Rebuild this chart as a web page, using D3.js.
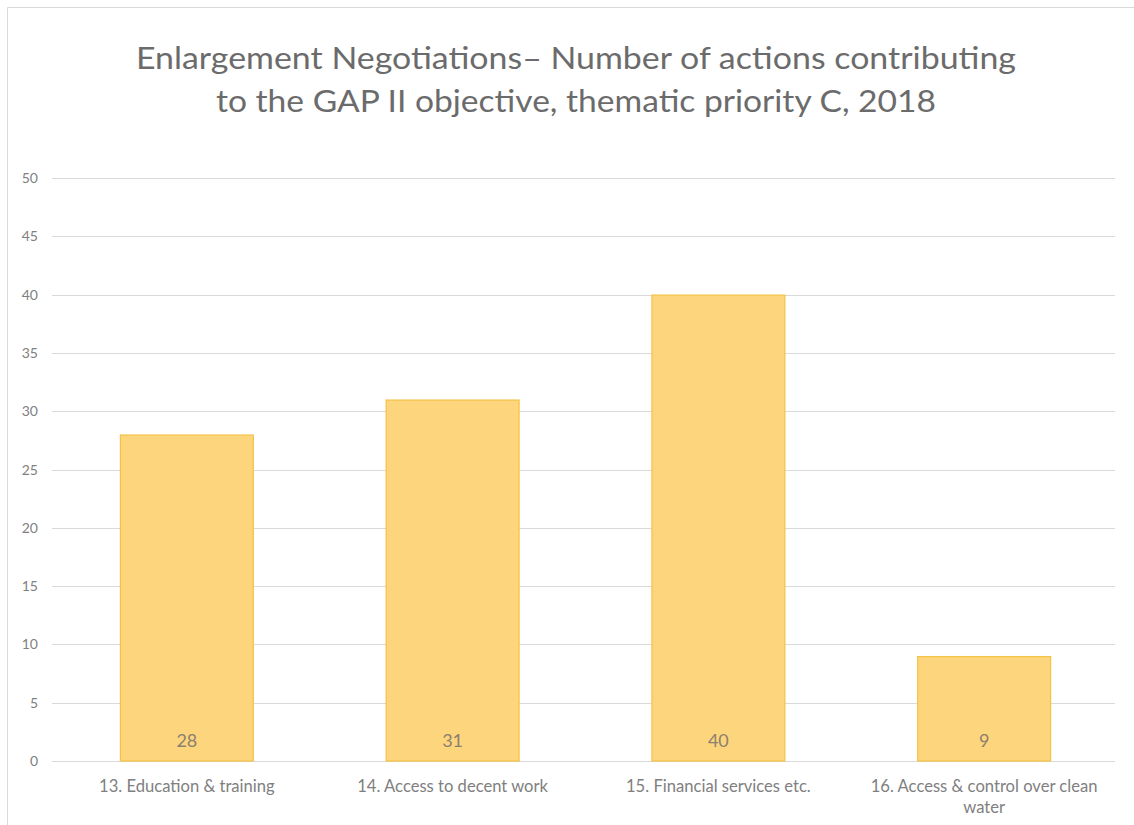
<!DOCTYPE html>
<html><head><meta charset="utf-8">
<script src="https://cdn.jsdelivr.net/npm/d3@7"></script>
<style>body{margin:0;background:#fff}svg{display:block}</style>
</head><body>
<script>
const categories = ["13. Education & training","14. Access to decent work","15. Financial services etc.","16. Access & control over clean water"];
const values = [28,31,40,9];
const yTicks = [0,5,10,15,20,25,30,35,40,45,50];
const titleLines = ["Enlargement Negotiations\u2013 Number of actions contributing","to the GAP II objective, thematic priority C, 2018"];

const W=1134,H=825;
const svg=d3.select("body").append("svg").attr("width",W).attr("height",H);
svg.append("rect").attr("width",W).attr("height",H).attr("fill","#fff");
svg.append("path").attr("d","M7.5,"+H+" V7.5 H"+W).attr("fill","none").attr("stroke","#d9d9d9").attr("stroke-width",1);

const x=d3.scaleBand().domain(categories).range([54,1117]).paddingInner(0.496).paddingOuter(0.248);
const y=d3.scaleLinear().domain([0,50]).range([761,178]);

const font="Lato, 'Open Sans', sans-serif";
const titleLens=[880,720];
svg.append("g").selectAll("text").data(titleLines).join("text")
 .attr("x",576).attr("y",(d,i)=>69+i*43).attr("text-anchor","middle")
 .attr("font-family",font).attr("font-size",30).attr("fill","#6b6b6b")
 .attr("textLength",(d,i)=>titleLens[i]).attr("lengthAdjust","spacingAndGlyphs").text(d=>d);

svg.append("g").selectAll("line").data(yTicks).join("line")
 .attr("x1",52).attr("x2",1115).attr("y1",d=>Math.round(y(d))+0.5).attr("y2",d=>Math.round(y(d))+0.5)
 .attr("stroke","#d9d9d9").attr("stroke-width",1);

svg.append("g").selectAll("text").data(yTicks).join("text")
 .attr("x",38).attr("y",d=>y(d)+5).attr("text-anchor","end")
 .attr("font-family",font).attr("font-size",14).attr("fill","#808080").text(d=>d);

svg.append("g").selectAll("rect").data(values).join("rect")
 .attr("x",(d,i)=>x(categories[i])+0.5).attr("width",x.bandwidth()-1)
 .attr("y",d=>y(d)+0.5).attr("height",d=>y(0)-y(d)-0.5)
 .attr("fill","#fdd57c").attr("stroke","#f4c346").attr("stroke-width",1.2);

svg.append("g").selectAll("text").data(values).join("text")
 .attr("x",(d,i)=>x(categories[i])+x.bandwidth()/2).attr("y",747).attr("text-anchor","middle")
 .attr("font-family",font).attr("font-size",18).attr("fill","#8c8070").text(d=>d);

const wrapLabels={"16. Access & control over clean water":["16. Access & control over clean","water"]};
const lab=svg.append("g").selectAll("text").data(categories).join("text")
 .attr("x",d=>x(d)+x.bandwidth()/2).attr("y",792).attr("text-anchor","middle")
 .attr("font-family",font).attr("font-size",16.6).attr("fill","#808080");
lab.each(function(d){
  const lines=wrapLabels[d]||[d];
  d3.select(this).selectAll("tspan").data(lines).join("tspan")
   .attr("x",x(d)+x.bandwidth()/2).attr("dy",(l,i)=>i?21:0).text(l=>l);
});
</script>
</body></html>
